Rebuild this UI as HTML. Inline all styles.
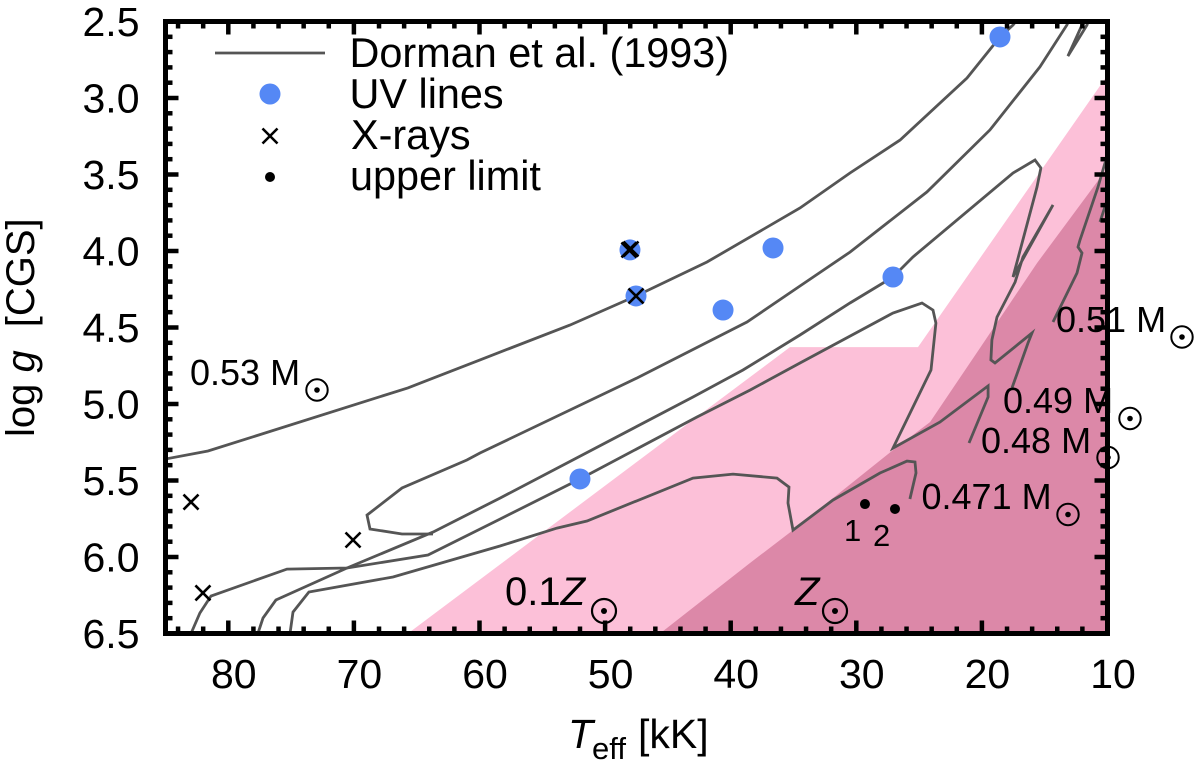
<!DOCTYPE html>
<html lang="en">
<head>
<meta charset="utf-8">
<title>Teff vs log g chart</title>
<style>
html,body{margin:0;padding:0;background:#fff;width:1200px;height:762px;overflow:hidden}
svg{display:block}
text{font-family:"Liberation Sans",sans-serif;fill:#000}
</style>
</head>
<body>
<svg id="chart" xmlns="http://www.w3.org/2000/svg" width="1200" height="762" viewBox="0 0 1200 762">
<defs><clipPath id="plot-clip"><rect x="165.5" y="21.5" width="942" height="612"/></clipPath></defs>
<g id="regions" clip-path="url(#plot-clip)"></g>
<g id="tracks" clip-path="url(#plot-clip)"></g>
<g id="points"></g>
<g id="axes"></g>

<g>
<line x1="215" y1="53" x2="325" y2="53" stroke="#555" stroke-width="2.8"/>
<text x="349.500" y="67" font-size="41.400">Dorman et al. (1993)</text>
<circle cx="270" cy="94" r="10.5" fill="#5588f5"/>
<text x="349.500" y="108" font-size="41.400">UV lines</text>
<path d="M262.5 128.5L277.5 143.5M277.5 128.5L262.5 143.5" stroke="#000" stroke-width="2.6" fill="none"/>
<text x="351" y="149" font-size="41.400">X-rays</text>
<circle cx="270" cy="177" r="5" fill="#000"/>
<text x="350" y="190" font-size="41.400">upper limit</text>
</g>

<g>
<text x="190" y="385" font-size="36">0.53 M</text>
<circle cx="317" cy="390" r="10.7" fill="none" stroke="#000" stroke-width="2"/>
<circle cx="317" cy="390" r="2.8" fill="#000"/>
<text x="1056" y="332" font-size="36">0.51 M</text>
<circle cx="1182" cy="337" r="10.7" fill="none" stroke="#000" stroke-width="2"/>
<circle cx="1182" cy="337" r="2.8" fill="#000"/>
<text x="1003" y="413" font-size="36">0.49 M</text>
<circle cx="1130" cy="418.500" r="10.7" fill="none" stroke="#000" stroke-width="2"/>
<circle cx="1130" cy="418.500" r="2.8" fill="#000"/>
<text x="981" y="453" font-size="36">0.48 M</text>
<circle cx="1108" cy="457.500" r="10.7" fill="none" stroke="#000" stroke-width="2"/>
<circle cx="1108" cy="457.500" r="2.8" fill="#000"/>
<text x="921.500" y="509" font-size="36">0.471 M</text>
<circle cx="1068" cy="514.500" r="10.7" fill="none" stroke="#000" stroke-width="2"/>
<circle cx="1068" cy="514.500" r="2.8" fill="#000"/>
<text x="844" y="541" font-size="31">1</text>
<text x="873" y="546" font-size="31">2</text>
</g>

<g>
<text x="505" y="605" font-size="40">0.1<tspan font-style="italic">Z</tspan></text>
<circle cx="604" cy="611" r="12" fill="none" stroke="#000" stroke-width="2.200"/>
<circle cx="604" cy="611" r="3" fill="#000"/>
<text x="795" y="605" font-size="40" font-style="italic">Z</text>
<circle cx="835" cy="611" r="12" fill="none" stroke="#000" stroke-width="2.200"/>
<circle cx="835" cy="611" r="3" fill="#000"/>
</g>

<text x="568" y="748" font-size="41"><tspan font-style="italic">T</tspan><tspan font-size="31" dy="11" dx="-1">eff</tspan><tspan dy="-11" dx="12">[kK]</tspan></text>
<text transform="translate(34,437) rotate(-90)" font-size="40">log <tspan font-style="italic">g</tspan><tspan dx="23">[CGS]</tspan></text>

<script>
// Axis tick values
const xMajorTicks = [80, 70, 60, 50, 40, 30, 20, 10];
const xMinorTicks = [84, 82, 78, 76, 74, 72, 68, 66, 64, 62, 58, 56, 54, 52, 48, 46, 44, 42, 38, 36, 34, 32, 28, 26, 24, 22, 18, 16, 14, 12];
const yMajorTicks = ['2.5', '3.0', '3.5', '4.0', '4.5', '5.0', '5.5', '6.0', '6.5'];
const yMinorTicks = [2.6, 2.7, 2.8, 2.9, 3.1, 3.2, 3.3, 3.4, 3.6, 3.7, 3.8, 3.9, 4.1, 4.2, 4.3, 4.4, 4.6, 4.7, 4.8, 4.9, 5.1, 5.2, 5.3, 5.4, 5.6, 5.7, 5.8, 5.9, 6.1, 6.2, 6.3, 6.4];

// Shaded regions as [Teff, log g]
const regionTenthSolar = [[65.70, 6.5], [35.28, 4.628], [25.09, 4.628], [10, 2.85], [10, 6.5]];
const regionSolar = [[45.63, 6.5], [38.46, 6.039], [35.04, 5.824], [27.08, 5.301], [24.13, 5.118], [20.15, 4.634], [15.61, 4.079], [10, 3.457], [10, 6.5]];

// Evolution tracks as [Teff, log g]
const track053 = [[85.04, 5.36], [81.62, 5.307], [65.70, 4.895], [59.96, 4.712], [52.80, 4.484], [47.54, 4.294], [41.89, 4.072], [34.48, 3.719], [30.50, 3.490], [26.52, 3.275], [21.19, 2.869], [18.56, 2.601], [17.52, 2.523], [16.9, 2.46]];
const track051 = [[63.70, 5.850], [66.17, 5.850], [68.72, 5.817], [68.96, 5.726], [66.17, 5.549], [61.00, 5.366], [59.96, 5.320], [47.46, 4.830], [38.70, 4.464], [34.48, 4.229], [30.50, 4.007], [24.37, 3.614], [19.36, 3.209], [15.38, 2.797], [13.23, 2.523], [12.9, 2.46]];
const track051Hook = [[11.4, 2.46], [11.63, 2.523], [13.15, 2.726], [12.03, 2.523], [11.8, 2.46]];
const track049 = [[77.64, 6.50], [77.24, 6.399], [76.21, 6.281], [70.55, 6.072], [63.70, 5.837], [58.37, 5.615], [43.00, 4.954], [39.02, 4.778], [34.48, 4.549], [30.50, 4.340], [27.08, 4.170], [25.49, 4.039], [17.52, 3.490], [15.77, 3.405], [15.30, 3.457], [15.61, 3.582], [17.52, 4.170], [14.34, 3.699], [16.73, 4.039], [17.36, 4.203], [18.80, 4.432], [19.20, 4.582], [19.28, 4.712], [18.96, 4.732], [16.01, 4.536], [16.33, 4.601], [17.60, 4.895]];
const track048 = [[82.97, 6.50], [82.26, 6.366], [81.38, 6.255], [75.33, 6.079], [70.55, 6.072], [64.10, 5.987], [58.37, 5.752], [52.00, 5.490], [42.68, 5.085], [38.46, 4.909], [34.48, 4.732], [27.08, 4.405], [24.77, 4.340], [23.89, 4.386], [23.66, 4.471], [24.05, 4.778], [27.08, 5.288], [23.34, 5.118], [19.51, 4.882], [19.51, 4.954], [21.03, 5.255]];
const track0471 = [[75.09, 6.50], [74.85, 6.360], [73.58, 6.229], [66.89, 6.131], [58.37, 5.928], [53.83, 5.811], [51.44, 5.765], [43.00, 5.484], [39.82, 5.458], [36.31, 5.484], [35.36, 5.543], [35.44, 5.647], [35.04, 5.824], [31.86, 5.628], [28.11, 5.451], [25.96, 5.373], [25.33, 5.379], [25.25, 5.451], [25.73, 5.621]];
const trackRight = [[9.9, 3.40], [10.20, 3.425], [10.76, 3.582], [12.19, 3.928], [12.35, 3.974], [12.03, 4.013], [12.43, 4.144], [14.34, 4.464]];
const trackRightStub = [[10.60, 3.810], [10.0, 3.66]];

// Observed stars as [Teff, log g]
const uvPoints = [[18.56, 2.601], [27.08, 4.170], [36.63, 3.980], [40.61, 4.386], [47.54, 4.294], [48.02, 3.993], [52.00, 5.490]];
const xrayPoints = [[82.97, 5.641], [70.07, 5.889], [82.02, 6.235], [47.54, 4.294], [48.10, 3.993], [47.94, 3.987]];
const upperLimitPoints = [[29.31, 5.654], [26.92, 5.686]];

const NS = 'http://www.w3.org/2000/svg';
const sx = t => 1107.5 - (t - 10) * 12.56;
const sy = g => 21.5 + (g - 2.5) * 153;
const pathOf = pts => pts.map((p, i) => (i ? 'L' : 'M') + sx(p[0]).toFixed(1) + ' ' + sy(p[1]).toFixed(1)).join('');
const make = tag => document.createElementNS(NS, tag);

const regionsG = document.getElementById('regions');
const tracksG = document.getElementById('tracks');
const pointsG = document.getElementById('points');
const axesG = document.getElementById('axes');

function addRegion(pts, color, name) {
  const el = make('path');
  
  
  el.setAttribute('d', pathOf(pts) + 'Z');
  el.setAttribute('fill', color);
  regionsG.appendChild(el);
}
addRegion(regionTenthSolar, '#fcc0d8', 'region-tenth-solar-metallicity');
addRegion(regionSolar, '#dc88a8', 'region-solar-metallicity');

function addTrack(pts, name) {
  const el = make('path');
  
  
  el.setAttribute('d', pathOf(pts));
  el.setAttribute('fill', 'none');
  el.setAttribute('stroke', '#555');
  el.setAttribute('stroke-width', '2.8');
  el.setAttribute('stroke-linejoin', 'miter');
  tracksG.appendChild(el);
}
addTrack(track053, 'track-053-msun');
addTrack(track051, 'track-051-msun');
addTrack(track051Hook, 'track-051-msun-hook');
addTrack(track049, 'track-049-msun');
addTrack(track048, 'track-048-msun');
addTrack(track0471, 'track-0471-msun');
addTrack(trackRight, 'track-right-edge');
addTrack(trackRightStub, 'track-right-edge-stub');

uvPoints.forEach(p => {
  const el = make('circle');
  
  
  el.setAttribute('cx', sx(p[0]));
  el.setAttribute('cy', sy(p[1]));
  el.setAttribute('r', '10.5');
  el.setAttribute('fill', '#5588f5');
  pointsG.appendChild(el);
});
xrayPoints.forEach(p => {
  const el = make('path');
  const x = sx(p[0]), y = sy(p[1]);
  
  
  el.setAttribute('d', `M${x - 7.5} ${y - 7.5}L${x + 7.5} ${y + 7.5}M${x + 7.5} ${y - 7.5}L${x - 7.5} ${y + 7.5}`);
  el.setAttribute('stroke', '#000');
  el.setAttribute('stroke-width', '2.6');
  el.setAttribute('fill', 'none');
  pointsG.appendChild(el);
});
upperLimitPoints.forEach(p => {
  const el = make('circle');
  
  
  el.setAttribute('cx', sx(p[0]));
  el.setAttribute('cy', sy(p[1]));
  el.setAttribute('r', '5');
  el.setAttribute('fill', '#000');
  pointsG.appendChild(el);
});

function addTick(x1, y1, x2, y2, w, name) {
  const el = make('line');
  
  
  el.setAttribute('x1', x1);
  el.setAttribute('y1', y1);
  el.setAttribute('x2', x2);
  el.setAttribute('y2', y2);
  el.setAttribute('stroke', '#000');
  el.setAttribute('stroke-width', w);
  axesG.appendChild(el);
}
const T = sy(2.5), B = sy(6.5), L = sx(85), R = sx(10);
xMajorTicks.forEach(v => {
  const x = sx(v);
  addTick(x, B, x, B - 13, 4.5, 'x-major-tick');
  addTick(x, T, x, T + 13, 4.5, 'x-major-tick');
  const t = make('text');
  
  
  t.setAttribute('x', x + 5.5);
  t.setAttribute('y', 688);
  t.setAttribute('font-size', '41');
  t.setAttribute('text-anchor', 'middle');
  t.textContent = v;
  axesG.appendChild(t);
});
xMinorTicks.forEach(v => {
  const x = sx(v);
  addTick(x, B, x, B - 7, 4.5, 'x-minor-tick');
  addTick(x, T, x, T + 7, 4.5, 'x-minor-tick');
});
yMajorTicks.forEach(v => {
  const y = sy(Number(v));
  addTick(L, y, L + 13, y, 4.5, 'y-major-tick');
  addTick(R, y, R - 13, y, 4.5, 'y-major-tick');
  const t = make('text');
  
  
  t.setAttribute('x', 139.5);
  t.setAttribute('y', y + 14.5);
  t.setAttribute('font-size', '41');
  t.setAttribute('text-anchor', 'end');
  t.textContent = v;
  axesG.appendChild(t);
});
yMinorTicks.forEach(v => {
  const y = sy(v);
  addTick(L, y, L + 7, y, 4.5, 'y-minor-tick');
  addTick(R, y, R - 7, y, 4.5, 'y-minor-tick');
});
const frame = make('rect');


frame.setAttribute('x', L);
frame.setAttribute('y', T);
frame.setAttribute('width', R - L);
frame.setAttribute('height', B - T);
frame.setAttribute('fill', 'none');
frame.setAttribute('stroke', '#000');
frame.setAttribute('stroke-width', '5');
axesG.appendChild(frame);
</script>
</svg>
</body>
</html>
